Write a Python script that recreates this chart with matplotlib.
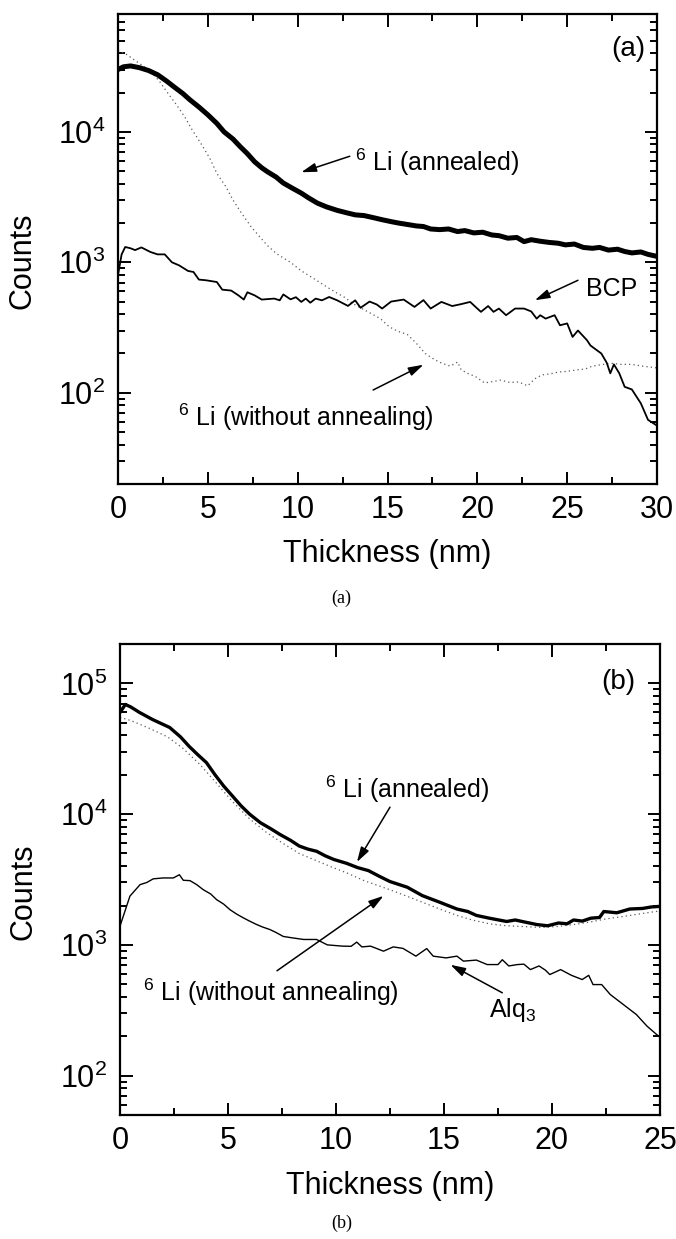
import numpy as np
import matplotlib
matplotlib.use('Agg')
import matplotlib.pyplot as plt
from matplotlib.ticker import MultipleLocator, LogLocator, NullFormatter

# ---- panel (a): BCP ----
a_ann_x = [0, 0.3, 0.7, 1.2, 1.7, 2.2, 2.7, 3.1, 3.6, 4.0,
           4.5, 5.0, 5.5, 5.9, 6.4, 6.8, 7.2, 7.6, 8.0, 8.3,
           8.8, 9.2, 9.7, 10.2, 10.6, 11.1, 11.6, 12.2, 12.7, 13.2,
           13.7, 14.2, 14.7, 15.2, 15.6, 16.1, 16.6, 17.0, 17.4, 17.9,
           18.4, 18.9, 19.3, 19.8, 20.3, 20.8, 21.2, 21.7, 22.2, 22.6,
           23.0, 23.5, 24.0, 24.5, 24.9, 25.4, 25.9, 26.4, 26.8, 27.3,
           27.8, 28.2, 28.6, 29.1, 29.5, 30.0]
a_ann_y = [3.0e4, 3.15e4, 3.2e4, 3.1e4, 2.95e4, 2.74e4, 2.45e4, 2.22e4, 1.97e4, 1.76e4,
           1.55e4, 1.35e4, 1.16e4, 1.0e4, 8.8e3, 7.7e3, 6.8e3, 5.9e3, 5.3e3, 4.96e3,
           4.5e3, 4.05e3, 3.7e3, 3.39e3, 3.12e3, 2.84e3, 2.66e3, 2.5e3, 2.4e3, 2.31e3,
           2.28e3, 2.2e3, 2.12e3, 2.05e3, 2.0e3, 1.95e3, 1.9e3, 1.88e3, 1.8e3, 1.78e3,
           1.8e3, 1.72e3, 1.75e3, 1.68e3, 1.7e3, 1.62e3, 1.6e3, 1.53e3, 1.55e3, 1.44e3,
           1.49e3, 1.45e3, 1.42e3, 1.40e3, 1.36e3, 1.38e3, 1.3e3, 1.28e3, 1.3e3, 1.24e3,
           1.26e3, 1.21e3, 1.18e3, 1.2e3, 1.15e3, 1.11e3]

a_raw_x = [0, 0.5, 0.9, 1.4, 1.8, 2.3, 2.7, 3.2, 3.7, 4.1,
           4.6, 5.1, 5.5, 6.0, 6.4, 6.9, 7.4, 7.8, 8.3, 8.8,
           9.2, 9.6, 10.2, 10.7, 11.1, 11.6, 12.1, 12.6, 13.1, 13.6,
           14.1, 14.6, 15.1, 15.6, 16.1, 16.6, 17.1, 17.6, 18.0, 18.5,
           18.9, 19.1, 19.5, 19.9, 20.4, 20.9, 21.3, 21.8, 22.3, 22.8,
           23.2, 23.6, 24.1, 24.5, 25.0, 25.6, 26.0, 26.4, 27.0, 27.5,
           28.0, 28.6, 29.2, 30.0]
a_raw_y = [4.2e4, 3.9e4, 3.56e4, 3.2e4, 2.9e4, 2.45e4, 2.04e4, 1.65e4, 1.31e4, 1.05e4,
           8.2e3, 6.3e3, 4.8e3, 3.8e3, 3.0e3, 2.35e3, 1.88e3, 1.62e3, 1.35e3, 1.17e3,
           1.08e3, 1.0e3, 860, 780, 720, 650, 590, 540, 480, 440,
           404, 370, 320, 295, 280, 240, 200, 180, 169, 160,
           172, 150, 140, 133, 119, 122, 125, 120, 121, 113,
           128, 137, 140, 144, 146, 150, 152, 160, 165, 168,
           165, 165, 160, 155]

bcp_x = [0, 0.2, 0.4, 0.7, 0.95, 1.3, 1.8, 2.2, 2.6, 3.0,
         3.4, 3.9, 4.2, 4.5, 4.9, 5.5, 5.8, 6.3, 6.7, 7.0,
         7.2, 7.6, 8.0, 8.7, 9.0, 9.2, 9.6, 9.9, 10.2, 10.45,
         10.7, 11.0, 11.35, 11.75, 12.2, 12.8, 13.2, 13.5, 14.0, 14.4,
         14.7, 15.2, 15.9, 16.5, 17.0, 17.4, 18.0, 18.6, 19.1, 19.6,
         19.9, 20.2, 20.6, 20.9, 21.2, 21.6, 22.1, 22.6, 23.0, 23.3,
         23.5, 23.8, 24.3, 24.6, 25.0, 25.3, 25.6, 26.1, 26.3, 26.9,
         27.2, 27.4, 27.6, 27.9, 28.2, 28.6, 29.1, 29.5, 30.0]
bcp_y = [800, 1150, 1310, 1280, 1240, 1300, 1200, 1150, 1150, 1000,
         947, 858, 843, 737, 728, 706, 617, 607, 558, 518,
         589, 558, 518, 527, 511, 567, 520, 540, 497, 527,
         490, 527, 511, 542, 511, 463, 511, 448, 500, 475,
         442, 500, 518, 455, 513, 442, 497, 462, 478, 497,
         455, 417, 462, 417, 442, 393, 442, 442, 420, 370,
         393, 370, 393, 329, 340, 268, 300, 253, 230, 200,
         170, 141, 165, 141, 111, 106, 83, 62, 56]

# ---- panel (b): Alq3 ----
b_ann_x = [0, 0.25, 0.5, 0.9, 1.5, 2.3, 2.8, 3.2, 3.6, 4.0,
           4.4, 4.8, 5.2, 5.6, 6.0, 6.5, 7.0, 7.4, 7.9, 8.3,
           8.7, 9.1, 9.5, 9.9, 10.5, 11.0, 11.5, 12.0, 12.5, 13.3,
           14.0, 14.8, 15.6, 16.1, 16.5, 17.1, 17.9, 18.3, 18.7, 19.3,
           19.8, 20.3, 20.7, 21.0, 21.4, 21.8, 22.2, 22.4, 23.0, 23.6,
           24.2, 24.6, 25.0]
b_ann_y = [6.0e4, 6.9e4, 6.6e4, 6.0e4, 5.3e4, 4.6e4, 3.9e4, 3.3e4, 2.85e4, 2.48e4,
           2.0e4, 1.64e4, 1.38e4, 1.16e4, 1.0e4, 8.6e3, 7.7e3, 7.0e3, 6.3e3, 5.7e3,
           5.4e3, 5.2e3, 4.8e3, 4.5e3, 4.2e3, 3.9e3, 3.7e3, 3.35e3, 3.05e3, 2.76e3,
           2.38e3, 2.12e3, 1.88e3, 1.8e3, 1.68e3, 1.6e3, 1.51e3, 1.55e3, 1.5e3, 1.43e3,
           1.4e3, 1.47e3, 1.45e3, 1.55e3, 1.52e3, 1.6e3, 1.62e3, 1.8e3, 1.76e3, 1.88e3,
           1.9e3, 1.95e3, 1.97e3]

b_raw_x = [0, 0.5, 1.4, 2.2, 2.9, 3.7, 4.5, 5.2, 6.0, 6.8,
           7.6, 8.3, 9.1, 9.7, 10.5, 11.3, 12.5, 13.3, 14.0, 14.8,
           15.6, 16.3, 17.1, 17.9, 18.7, 19.5, 20.2, 21.0, 21.8, 22.5,
           23.3, 24.0, 24.8, 25.0]
b_raw_y = [5.5e4, 5.2e4, 4.5e4, 3.9e4, 3.2e4, 2.4e4, 1.7e4, 1.25e4, 9.2e3, 7.2e3,
           5.9e3, 5.0e3, 4.4e3, 4.0e3, 3.55e3, 3.1e3, 2.64e3, 2.35e3, 2.12e3, 1.88e3,
           1.68e3, 1.55e3, 1.45e3, 1.40e3, 1.38e3, 1.36e3, 1.38e3, 1.43e3, 1.5e3, 1.58e3,
           1.65e3, 1.72e3, 1.8e3, 1.81e3]

alq_x = [0, 0.46, 0.93, 1.24, 1.54, 2.0, 2.47, 2.75, 2.93, 3.24,
         3.55, 3.86, 4.2, 4.47, 4.8, 5.09, 5.4, 5.71, 6.0, 6.33,
         6.6, 6.94, 7.2, 7.56, 8.0, 8.5, 9.1, 9.6, 10.3, 10.7,
         10.96, 11.2, 11.6, 12.2, 12.65, 13.1, 13.7, 14.2, 14.5, 15.1,
         15.6, 15.9, 16.5, 17.0, 17.5, 17.7, 18.0, 18.4, 18.7, 19.0,
         19.4, 19.7, 19.9, 20.4, 20.9, 21.4, 21.7, 21.9, 22.3, 22.7,
         23.3, 23.9, 24.4, 25.0]
alq_y = [1390, 2360, 2890, 3000, 3200, 3250, 3250, 3440, 3120, 3100,
         2890, 2640, 2450, 2220, 2050, 1860, 1720, 1610, 1520, 1430,
         1370, 1310, 1250, 1160, 1130, 1100, 1100, 1000, 978, 975,
         1050, 965, 978, 895, 965, 940, 820, 937, 820, 795,
         820, 751, 765, 707, 707, 770, 690, 707, 712, 647,
         690, 640, 593, 647, 585, 543, 585, 497, 497, 417,
         350, 294, 239, 196]

plt.rcParams['font.family'] = ['Liberation Sans', 'DejaVu Sans']
plt.rcParams['mathtext.fontset'] = 'custom'
plt.rcParams['mathtext.rm'] = 'Liberation Sans'
plt.rcParams['mathtext.it'] = 'Liberation Sans:italic'
plt.rcParams['mathtext.default'] = 'regular'

fig = plt.figure(figsize=(6.76, 12.39), dpi=100)
ax_a = fig.add_axes([0.1746, 0.6094, 0.7973, 0.3793])
ax_b = fig.add_axes([0.1775, 0.1001, 0.7988, 0.3801])

arrow_kw = dict(arrowstyle='-|>,head_length=0.6,head_width=0.18', color='k',
                lw=1.1, mutation_scale=15, shrinkA=0, shrinkB=0)
ann_fs = 18


def style_axes(ax, xmax, ylim):
    ax.set_yscale('log')
    ax.set_xlim(0, xmax)
    ax.set_ylim(*ylim)
    ax.xaxis.set_major_locator(MultipleLocator(5))
    ax.xaxis.set_minor_locator(MultipleLocator(2.5))
    ax.yaxis.set_major_locator(LogLocator(base=10))
    ax.yaxis.set_minor_locator(LogLocator(base=10, subs=np.arange(2, 10)))
    ax.yaxis.set_minor_formatter(NullFormatter())
    ax.tick_params(which='both', direction='in', top=True, right=True, width=1.4,
                   labelsize=22)
    ax.tick_params(which='major', length=9)
    ax.tick_params(which='minor', length=5)
    ax.tick_params(axis='x', pad=8)
    ax.tick_params(axis='y', pad=9)
    for s in ax.spines.values():
        s.set_linewidth(1.6)
    ax.set_xlabel('Thickness (nm)', fontsize=22)
    ax.set_ylabel('Counts', fontsize=22)
    ax.xaxis.set_label_coords(0.5, -0.118)
    ax.yaxis.set_label_coords(-0.15, 0.475)


# panel (a)
ax_a.plot(a_raw_x, a_raw_y, color='0.35', lw=0.9, ls=(0, (1, 2.5)))
ax_a.plot(bcp_x, bcp_y, color='k', lw=1.3)
ax_a.plot(a_ann_x, a_ann_y, color='k', lw=3.6)
style_axes(ax_a, 30, (20, 8e4))
ax_a.text(0.978, 0.925, '(a)', transform=ax_a.transAxes, ha='right', va='center', fontsize=20)

ax_a.annotate('', xy=(10.2, 4.9e3), xytext=(12.9, 6.5e3), arrowprops=arrow_kw)
ax_a.text(13.2, 5.8e3, r'$^{6}$ Li (annealed)', fontsize=ann_fs, ha='left', va='center')
ax_a.annotate('', xy=(23.2, 512), xytext=(25.6, 728), arrowprops=arrow_kw)
ax_a.text(27.5, 620, 'BCP', fontsize=ann_fs, ha='center', va='center')
ax_a.annotate('', xy=(17.0, 164), xytext=(14.2, 105), arrowprops=arrow_kw)
ax_a.text(3.35, 65, r'$^{6}$ Li (without annealing)', fontsize=ann_fs, ha='left', va='center')

# panel (b)
ax_b.plot(b_raw_x, b_raw_y, color='0.35', lw=0.9, ls=(0, (1, 2.5)))
ax_b.plot(alq_x, alq_y, color='k', lw=1.0)
ax_b.plot(b_ann_x, b_ann_y, color='k', lw=2.4)
style_axes(ax_b, 25, (50, 2e5))
ax_b.text(0.954, 0.919, '(b)', transform=ax_b.transAxes, ha='right', va='center', fontsize=20)

ax_b.annotate('', xy=(10.97, 4.3e3), xytext=(12.5, 1.13e4), arrowprops=arrow_kw)
ax_b.text(9.5, 1.55e4, r'$^{6}$ Li (annealed)', fontsize=ann_fs, ha='left', va='center')
ax_b.annotate('', xy=(12.2, 2.37e3), xytext=(7.27, 634), arrowprops=arrow_kw)
ax_b.text(1.06, 430, r'$^{6}$ Li (without annealing)', fontsize=ann_fs, ha='left', va='center')
ax_b.annotate('', xy=(15.3, 704), xytext=(17.7, 430), arrowprops=arrow_kw)
ax_b.text(18.2, 319, r'Alq$_3$', fontsize=ann_fs, ha='center', va='center')

# captions under panels
fig.text(0.505, 1 - 598 / 1239, '(a)', family='Liberation Serif', fontsize=13, ha='center', va='center')
fig.text(0.505, 1 - 1223 / 1239, '(b)', family='Liberation Serif', fontsize=13, ha='center', va='center')

fig.savefig('out.png', dpi=100)
